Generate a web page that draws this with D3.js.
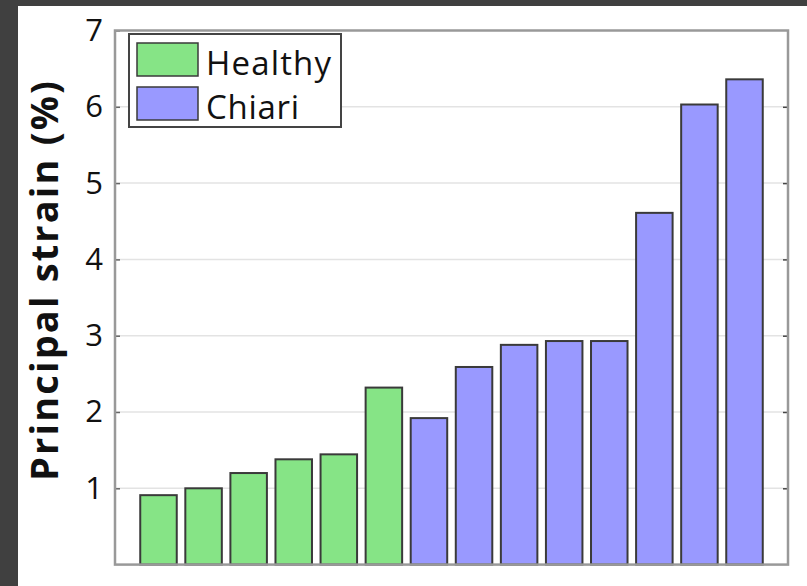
<!DOCTYPE html>
<html><head><meta charset="utf-8">
<script src="https://cdn.jsdelivr.net/npm/d3@7"></script>
<style>body{margin:0;background:#fff;}svg{display:block;}</style>
</head><body>
<script>
const subjects = d3.range(1, 15).map(String);
const groups = ["Healthy","Healthy","Healthy","Healthy","Healthy","Healthy","Chiari","Chiari","Chiari","Chiari","Chiari","Chiari","Chiari","Chiari"];
const strain = [0.91, 1.0, 1.2, 1.38, 1.445, 2.32, 1.92, 2.59, 2.88, 2.93, 2.93, 4.61, 6.03, 6.36];
const yTicks = [1, 2, 3, 4, 5, 6, 7];
const legendNames = ["Healthy", "Chiari"];
const colors = {Healthy: "#86e486", Chiari: "#9999ff"};

const W = 807, H = 586;
const svg = d3.select("body").append("svg").attr("width", W).attr("height", H);
svg.append("rect").attr("width", W).attr("height", H).attr("fill", "#404040");
svg.append("rect").attr("x", 18).attr("y", 6).attr("width", W - 18).attr("height", H - 6).attr("fill", "#fff");

const L = 115, R = 788, T = 30.5, B = 564.6;
const x = d3.scaleBand().domain(subjects).range([L, R]).paddingInner(0.19).paddingOuter(0.56);
const y = d3.scaleLinear().domain([0, 7]).range([B, T]);

// grid
svg.append("g").selectAll("line").data(yTicks.slice(0, -1)).join("line")
  .attr("x1", L).attr("x2", R).attr("y1", d => y(d)).attr("y2", d => y(d))
  .attr("stroke", "#e3e3e3").attr("stroke-width", 1.5);

// bars
svg.append("g").selectAll("rect").data(strain).join("rect")
  .attr("x", (d, i) => x(subjects[i])).attr("width", x.bandwidth())
  .attr("y", d => y(d)).attr("height", d => y(0) - y(d))
  .attr("fill", (d, i) => colors[groups[i]])
  .attr("stroke", "#3a3a3a").attr("stroke-width", 2);

// axes
const yAxis = d3.axisLeft(y).tickValues(yTicks).tickSize(-5).tickPadding(12).tickFormat(d3.format("d"));
const ga = svg.append("g").attr("transform", `translate(${L},0)`).call(yAxis);
ga.select(".domain").remove();
ga.selectAll(".tick line").attr("stroke", "#666").attr("stroke-width", 1.5);
ga.selectAll(".tick text").attr("font-family", "Open Sans").attr("font-size", 31).attr("fill", "#111");
const gr = svg.append("g").attr("transform", `translate(${R},0)`).call(d3.axisRight(y).tickValues(yTicks.slice(0,-1)).tickSize(-5).tickFormat(""));
gr.select(".domain").remove();
gr.selectAll(".tick line").attr("stroke", "#444").attr("stroke-width", 1.5);

svg.append("rect").attr("x", L).attr("y", T).attr("width", R - L).attr("height", B - T)
  .attr("fill", "none").attr("stroke", "#999").attr("stroke-width", 2.5);

// y label
svg.append("text").attr("transform", `translate(58,281) rotate(-90)`)
  .attr("text-anchor", "middle").attr("font-family", "Open Sans").attr("font-weight", "bold")
  .attr("font-size", 38).attr("fill", "#111")
  .attr("textLength", 400).attr("lengthAdjust", "spacing")
  .text("Principal strain (%)");

// legend
const legendLen = {Healthy: 125, Chiari: 93};
const lg = svg.append("g");
lg.append("rect").attr("x", 129).attr("y", 34).attr("width", 212).attr("height", 93)
  .attr("fill", "#fff").attr("stroke", "#444").attr("stroke-width", 2);
legendNames.forEach((n, i) => {
  lg.append("rect").attr("x", 137).attr("y", 43 + i * 44).attr("width", 61).attr("height", 33)
    .attr("fill", colors[n]).attr("stroke", "#3a3a3a").attr("stroke-width", 1.5);
  lg.append("text").attr("x", 206).attr("y", 75 + i * 44).attr("font-family", "Open Sans")
    .attr("font-size", 33).attr("fill", "#111")
    .attr("textLength", legendLen[n]).attr("lengthAdjust", "spacing").text(n);
});
</script>
</body></html>
